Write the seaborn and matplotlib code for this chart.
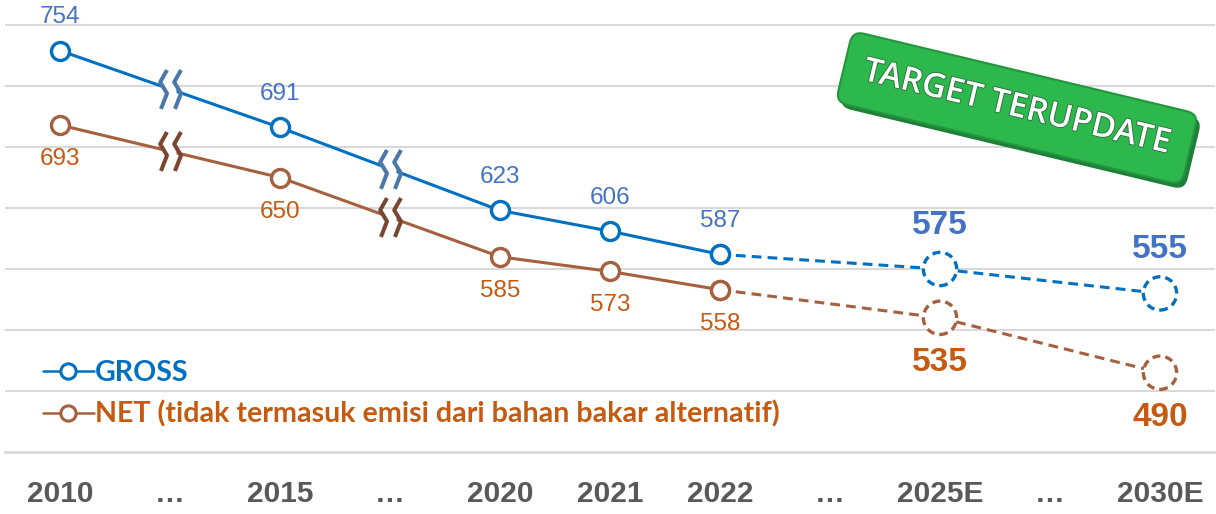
import numpy as np
import pandas as pd
import matplotlib
matplotlib.use("Agg")
import matplotlib.pyplot as plt
from matplotlib.path import Path
from matplotlib.lines import Line2D
import matplotlib.patheffects as pe
import seaborn as sns

# x axis slots ("…" marks skipped years)
slot_keys = ["2010", "gap1", "2015", "gap2", "2020", "2021", "2022", "gap3", "2025E", "gap4", "2030E"]
slot_labels = ["2010", "…", "2015", "…", "2020", "2021", "2022", "…", "2025E", "…", "2030E"]

actual_years = ["2010", "2015", "2020", "2021", "2022"]
gross_actual = [754, 691, 623, 606, 587]
net_actual = [693, 650, 585, 573, 558]

target_years = ["2022", "2025E", "2030E"]
gross_target = [587, 575, 555]
net_target = [558, 535, 490]

break_slots = ["gap1", "gap2"]

legend_labels = ["GROSS", "NET (tidak termasuk emisi dari bahan bakar alternatif)"]
badge_text = "TARGET TERUPDATE"

BLUE = "#0070C0"
BROWN = "#A5603F"
BLUE_LBL = "#4472C4"
ORANGE_LBL = "#C55A11"
BLUE_BRK = "#4A79A8"
BROWN_BRK = "#7A4631"
GRID = "#D9D9D9"

pos = {k: i for i, k in enumerate(slot_keys)}

df_act = pd.DataFrame({
    "x": [pos[y] for y in actual_years] * 2,
    "value": gross_actual + net_actual,
    "series": ["GROSS"] * len(actual_years) + ["NET"] * len(actual_years),
})
df_tgt = pd.DataFrame({
    "x": [pos[y] for y in target_years] * 2,
    "value": gross_target + net_target,
    "series": ["GROSS"] * len(target_years) + ["NET"] * len(target_years),
})

sns.set_style("white")
plt.rcParams["font.family"] = ["Liberation Sans", "DejaVu Sans"]

fig = plt.figure(figsize=(12.16, 5.14), dpi=100)
ax = fig.add_axes([5 / 1216, 62 / 514, 1210 / 1216, 452 / 514])

pal = {"GROSS": BLUE, "NET": BROWN}
for s, c in pal.items():
    sub = df_act[df_act.series == s]
    sns.lineplot(x=sub["x"], y=sub["value"], ax=ax, color=c, lw=2.2, zorder=3,
                 marker="o", ms=13, mfc="white", mec=c, mew=2.4)
    sub = df_tgt[df_tgt.series == s]
    sns.lineplot(x=sub["x"], y=sub["value"], ax=ax, color=c, lw=2.2, zorder=3,
                 linestyle=(0, (3.2, 2.0)))
    ax.plot(sub["x"].iloc[0], sub["value"].iloc[0], "o", ms=13, mfc="white", mec=c, mew=2.4, zorder=5)
    sns.scatterplot(x=sub["x"].iloc[1:], y=sub["value"].iloc[1:], ax=ax, s=24 ** 2,
                    facecolor="white", edgecolor=c, linewidth=2.4, linestyle=(0, (2.4, 1.5)), zorder=5)

# break symbols
chev = Path([(0.18, 1.0), (-0.17, 0.38), (0.18, -0.2), (-0.13, -1.0)])
for vals, col in [(gross_actual, BLUE_BRK), (net_actual, BROWN_BRK)]:
    ser = dict(zip(actual_years, vals))
    for g in break_slots:
        i = pos[g]
        y = (ser[slot_keys[i - 1]] + ser[slot_keys[i + 1]]) / 2
        ax.plot(i, y, "s", ms=9, mfc="white", mec="none", zorder=6)
        for dx in (-0.06, 0.06):
            ax.plot(i + dx, y, marker=chev, ms=28, mfc="none", mec=col, mew=2.9, zorder=7, ls="none")

# value labels
for yr, v in zip(actual_years, gross_actual):
    ax.annotate(str(v), (pos[yr], v), xytext=(0, 24), textcoords="offset points",
                ha="center", va="center", fontsize=17.5, color=BLUE_LBL)
for yr, v in zip(actual_years, net_actual):
    ax.annotate(str(v), (pos[yr], v), xytext=(0, -24.5), textcoords="offset points",
                ha="center", va="center", fontsize=17.5, color=ORANGE_LBL)
for yr, v in zip(target_years[1:], gross_target[1:]):
    ax.annotate(str(v), (pos[yr], v), xytext=(0, 31.5), textcoords="offset points",
                ha="center", va="center", fontsize=24, fontweight="bold", color=BLUE_LBL)
for yr, v in zip(target_years[1:], net_target[1:]):
    ax.annotate(str(v), (pos[yr], v), xytext=(0, -32.5), textcoords="offset points",
                ha="center", va="center", fontsize=24, fontweight="bold", color=ORANGE_LBL)

# axes
ax.set_xlim(-0.5, len(slot_keys) - 0.5)
ax.set_ylim(425, 795.5)
ax.set_yticks(np.arange(475, 800, 50))
ax.yaxis.grid(True, color=GRID, lw=1.5)
ax.set_axisbelow(True)
ax.tick_params(axis="y", left=False, labelleft=False)
ax.set_xticks(range(len(slot_keys)))
ax.set_xticklabels(slot_labels, fontsize=21.5, fontweight="bold", color="#595959")
ax.set_xticks(np.arange(-0.5, len(slot_keys), 1), minor=True)
ax.tick_params(axis="x", which="major", length=0, pad=20)
ax.tick_params(axis="x", which="minor", length=7, width=1.5, color=GRID, direction="out")
for sp in ["top", "left", "right"]:
    ax.spines[sp].set_visible(False)
ax.spines["bottom"].set_color(GRID)
ax.spines["bottom"].set_linewidth(2)
ax.set_xlabel("")
ax.set_ylabel("")

# legend
handles = [
    Line2D([], [], color=BLUE, lw=1.8, marker="o", ms=11, mfc="white", mec=BLUE, mew=2.2),
    Line2D([], [], color=BROWN, lw=1.8, marker="o", ms=11, mfc="white", mec=BROWN, mew=2.2),
]
leg = ax.legend(handles, legend_labels, loc="upper left", bbox_to_anchor=(27 / 1210, 103 / 452),
                frameon=False, handlelength=1.75, handletextpad=0.05, labelspacing=0.5,
                prop={"family": "Lato", "weight": "bold", "size": 20.6}, borderaxespad=0)
for t, c in zip(leg.get_texts(), [BLUE, ORANGE_LBL]):
    t.set_color(c)

# badge
ax.text(1012 / 1210 + 0.003, 1 - 113 / 452, badge_text, transform=ax.transAxes, rotation=-13.5,
        rotation_mode="anchor", ha="center", va="center", fontsize=24, color="none",
        family="Open Sans", fontweight="semibold",
        bbox=dict(boxstyle="round,pad=0.6,rounding_size=0.35", fc="#1E7F38", ec="none"), zorder=8)
ax.text(1012 / 1210, 1 - 108 / 452, badge_text, transform=ax.transAxes, rotation=-13.5,
        rotation_mode="anchor", ha="center", va="center", fontsize=24, color="white",
        family="Open Sans", fontweight="semibold",
        path_effects=[pe.withStroke(linewidth=1.2, foreground="#2b6a3a")],
        bbox=dict(boxstyle="round,pad=0.6,rounding_size=0.35", fc="#2DB84D", ec="#23963D", lw=1.5),
        zorder=9)

fig.savefig("out.png", dpi=100)
